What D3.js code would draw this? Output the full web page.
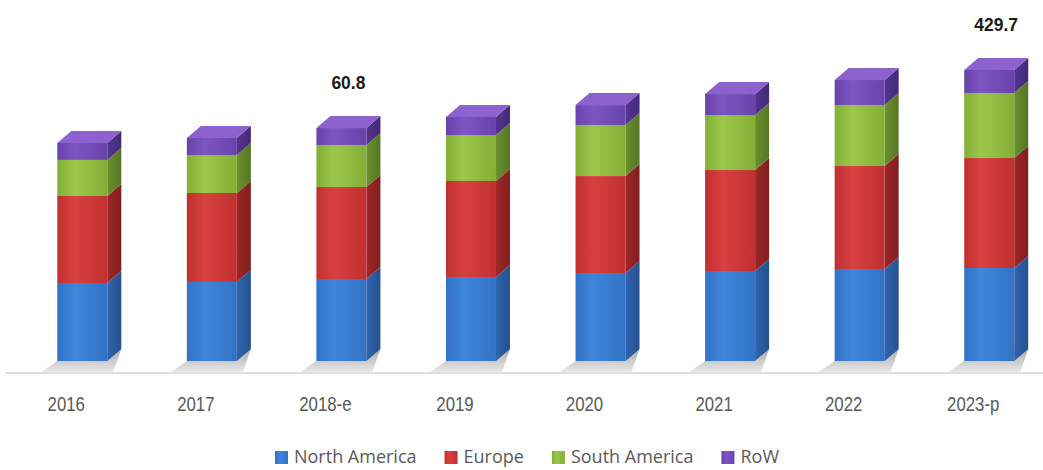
<!DOCTYPE html>
<html>
<head>
<meta charset="utf-8">
<script src="https://cdn.jsdelivr.net/npm/d3@7"></script>
<style>
  html, body { margin: 0; padding: 0; background: #ffffff; }
  svg { display: block; }
</style>
</head>
<body>
<svg id="chart" width="1043" height="470"></svg>
<script>
// ---------------- data ----------------
const categories = ["2016", "2017", "2018-e", "2019", "2020", "2021", "2022", "2023-p"];
const seriesNames = ["North America", "Europe", "South America", "RoW"];
const northAmerica = [115.2, 116.7, 121.1, 124.0, 129.9, 132.9, 135.8, 137.3];
const europe       = [128.5, 131.4, 135.8, 141.8, 143.2, 149.1, 152.1, 162.4];
const southAmerica = [53.2, 56.1, 62.0, 67.9, 75.3, 81.2, 90.1, 96.0];
const rest         = [25.1, 25.1, 25.1, 26.6, 29.5, 31.0, 36.9, 34.0];
const annotationCats = ["2018-e", "2023-p"];
const annotationTexts = ["60.8", "429.7"];

// ---------------- setup ----------------
const svg = d3.select("#chart");
const W = 1043, H = 470;
const baseY = 361;
const depthX = 14, depthY = 12;
const barW = 50;

const rows = categories.map((c, i) => ({
  cat: c,
  "North America": northAmerica[i],
  "Europe": europe[i],
  "South America": southAmerica[i],
  "RoW": rest[i]
}));
const stacked = d3.stack().keys(seriesNames)(rows);

const x = d3.scaleBand().domain(categories).range([1.5, 1038]).padding(0);
const y = d3.scaleLinear().domain([0, 429.7]).range([baseY, 70]);

const palette = {
  "North America": { front: ["#3f86dc", "#3272c4"], side: "#2a5a9e", top: "#5a98e0" },
  "Europe":        { front: ["#d84040", "#c03030"], side: "#8f2222", top: "#e05a5a" },
  "South America": { front: ["#9bc84a", "#84ae36"], side: "#5f8228", top: "#add45e" },
  "RoW":           { front: ["#7d55c2", "#6843aa"], side: "#4c2f82", top: "#8d62cf" }
};

const defs = svg.append("defs");
seriesNames.forEach((s, i) => {
  const g = defs.append("linearGradient").attr("id", "gf" + i)
    .attr("x1", "0%").attr("x2", "100%").attr("y1", "0%").attr("y2", "0%");
  g.append("stop").attr("offset", "0%").attr("stop-color", palette[s].front[1]);
  g.append("stop").attr("offset", "35%").attr("stop-color", palette[s].front[0]);
  g.append("stop").attr("offset", "100%").attr("stop-color", palette[s].front[1]);
  const gs = defs.append("linearGradient").attr("id", "gs" + i)
    .attr("x1", "0%").attr("x2", "100%").attr("y1", "0%").attr("y2", "0%");
  gs.append("stop").attr("offset", "0%").attr("stop-color", d3.color(palette[s].side).brighter(0.3));
  gs.append("stop").attr("offset", "100%").attr("stop-color", d3.color(palette[s].side).darker(0.3));
});
const sh = defs.append("linearGradient").attr("id", "shadow")
  .attr("x1", "0%").attr("x2", "0%").attr("y1", "0%").attr("y2", "100%");
sh.append("stop").attr("offset", "0%").attr("stop-color", "#9c9c9c");
sh.append("stop").attr("offset", "100%").attr("stop-color", "#e4e4e4");

// bar left edge relative to band center
const barLeft = c => x(c) + x.bandwidth() / 2 - 9;

// floor shadows
svg.append("g").selectAll("polygon").data(categories).join("polygon")
  .attr("points", c => {
    const x0 = barLeft(c);
    return [[x0, baseY], [x0 + barW + depthX, baseY - depthY],
            [x0 + barW + depthX - 8, baseY + 11], [x0 - 16, baseY + 11]]
      .map(p => p.join(",")).join(" ");
  })
  .attr("fill", "url(#shadow)")
  .attr("opacity", 0.85);

// axis line
svg.append("line")
  .attr("x1", 5).attr("x2", W).attr("y1", 373).attr("y2", 373)
  .attr("stroke", "#d4d4d4").attr("stroke-width", 1.5);

// bars
const barsG = svg.append("g");
stacked.forEach((layer, si) => {
  const s = seriesNames[si];
  const g = barsG.append("g");
  g.selectAll("polygon.side").data(layer).join("polygon")
    .attr("class", "side")
    .attr("points", d => {
      const x0 = barLeft(d.data.cat) + barW;
      const y0 = y(d[0]), y1 = y(d[1]);
      return [[x0, y0], [x0 + depthX, y0 - depthY], [x0 + depthX, y1 - depthY], [x0, y1]]
        .map(p => p.join(",")).join(" ");
    })
    .attr("fill", "url(#gs" + si + ")");
  g.selectAll("rect").data(layer).join("rect")
    .attr("x", d => barLeft(d.data.cat))
    .attr("y", d => y(d[1]))
    .attr("width", barW)
    .attr("height", d => y(d[0]) - y(d[1]))
    .attr("fill", "url(#gf" + si + ")");
  if (si === seriesNames.length - 1) {
    g.selectAll("polygon.top").data(layer).join("polygon")
      .attr("class", "top")
      .attr("points", d => {
        const x0 = barLeft(d.data.cat);
        const yt = y(d[1]);
        return [[x0, yt], [x0 + depthX, yt - depthY], [x0 + barW + depthX, yt - depthY], [x0 + barW, yt]]
          .map(p => p.join(",")).join(" ");
      })
      .attr("fill", palette[s].top);
  }
});

// category axis labels (condensed look)
svg.append("g").selectAll("text").data(categories).join("text")
  .attr("transform", c => `translate(${x(c) + x.bandwidth() / 2},411) scale(0.84,1)`)
  .attr("text-anchor", "middle")
  .attr("font-family", "'Liberation Sans', 'Open Sans', sans-serif")
  .attr("font-size", 20)
  .attr("fill", "#595959")
  .text(c => c);

// annotations
const totals = categories.map((c, i) => northAmerica[i] + europe[i] + southAmerica[i] + rest[i]);
svg.append("g").selectAll("text").data(annotationCats).join("text")
  .attr("transform", c => {
    const cx = barLeft(c) + barW / 2 + depthX / 2;
    const cy = y(totals[categories.indexOf(c)]) - depthY - 27;
    return `translate(${cx},${cy}) scale(0.92,1)`;
  })
  .attr("text-anchor", "middle")
  .attr("font-family", "'Liberation Sans', Arial, sans-serif")
  .attr("font-weight", "bold")
  .attr("font-size", 19)
  .attr("fill", "#1a1a1a")
  .text((c, i) => annotationTexts[i]);

// legend
const legend = svg.append("g");
let lx = 0;
seriesNames.forEach((s, i) => {
  const g = legend.append("g");
  g.append("rect").attr("x", 0).attr("y", -12).attr("width", 13).attr("height", 13)
    .attr("fill", "url(#gf" + i + ")");
  const t = g.append("text").attr("x", 19).attr("y", 0)
    .attr("font-family", "'Open Sans', sans-serif")
    .attr("font-size", 18)
    .attr("fill", "#595959")
    .text(s);
  const tw = t.node().getComputedTextLength();
  g.attr("transform", `translate(${lx},0)`);
  lx += 19 + tw + 28;
});
const legendW = lx - 28;
legend.attr("transform", `translate(${527 - legendW / 2},463)`);
</script>
</body>
</html>
